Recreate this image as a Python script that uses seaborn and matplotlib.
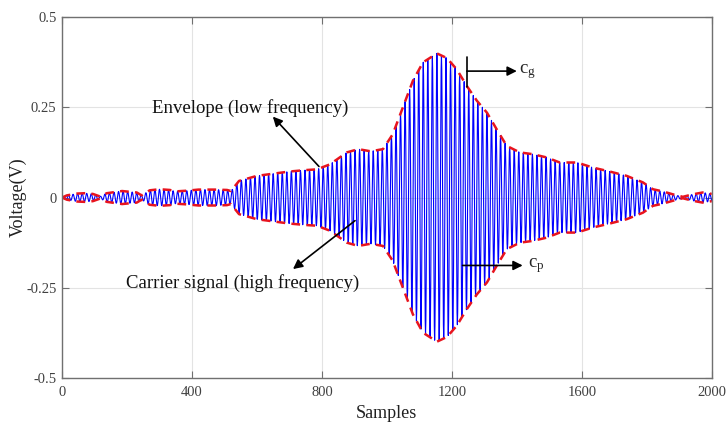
import numpy as np
import pandas as pd
import matplotlib
matplotlib.use("Agg")
import matplotlib.pyplot as plt
import seaborn as sns

# ---- data ----
env_samples = [0, 15, 46, 70, 95, 117, 138, 185, 230, 245, 270, 300, 332, 350, 385,
               420, 470, 508, 520, 545, 600, 650, 700, 750, 785, 825, 877, 912, 950,
               988, 1018, 1049, 1080, 1111, 1154, 1185, 1215, 1246, 1277, 1308, 1338,
               1369, 1409, 1449, 1492, 1532, 1585, 1634, 1686, 1738, 1788, 1819, 1849,
               1880, 1911, 1942, 1972, 2000]
env_values = [0.0, 0.006, 0.011, 0.012, 0.010, 0.003, 0.012, 0.018, 0.014, 0.006, 0.020,
              0.023, 0.021, 0.017, 0.019, 0.022, 0.022, 0.021, 0.018, 0.046, 0.060, 0.066,
              0.072, 0.076, 0.078, 0.092, 0.125, 0.134, 0.128, 0.134, 0.175, 0.249, 0.323,
              0.374, 0.399, 0.386, 0.355, 0.309, 0.268, 0.235, 0.189, 0.143, 0.125, 0.120,
              0.111, 0.097, 0.097, 0.083, 0.072, 0.060, 0.042, 0.023, 0.017, 0.009, 0.002,
              0.009, 0.014, 0.010]
carrier_period = 14.0          # samples per carrier cycle
n_samples = 2000

x_ticks = [0, 400, 800, 1200, 1600, 2000]
y_ticks = [-0.5, -0.25, 0, 0.25, 0.5]
y_tick_labels = ["-0.5", "-0.25", "0", "0.25", "0.5"]

# ---- build signal ----
s = np.arange(n_samples + 1)
env_full = np.interp(s, env_samples, env_values)
carrier = env_full * np.cos(2 * np.pi * (s - 1154) / carrier_period)
df_sig = pd.DataFrame({"Samples": s, "Voltage": carrier})
df_up = pd.DataFrame({"Samples": env_samples, "Voltage": env_values})
df_lo = pd.DataFrame({"Samples": env_samples, "Voltage": [-v for v in env_values]})

sns.set_theme(style="white")
plt.rcParams["font.family"] = ["Liberation Serif", "DejaVu Serif"]
plt.rcParams["mathtext.fontset"] = "custom"
plt.rcParams["mathtext.rm"] = "Liberation Serif"
plt.rcParams["mathtext.it"] = "Liberation Serif:italic"

fig = plt.figure(figsize=(7.27, 4.23), dpi=100)
ax = fig.add_axes([0.0853, 0.106, 0.8937, 0.854])

sns.lineplot(data=df_sig, x="Samples", y="Voltage", ax=ax, color="#0000ff",
             lw=0.8, estimator=None, sort=False)
for d in (df_up, df_lo):
    sns.lineplot(data=d, x="Samples", y="Voltage", ax=ax, color="#e8141e",
                 lw=1.8, estimator=None, sort=False, dashes=False,
                 linestyle=(0, (3.5, 2.5)))

ax.set_xlim(0, 2000)
ax.set_ylim(-0.5, 0.5)
ax.set_xticks(x_ticks)
ax.set_xticklabels([str(t) for t in x_ticks])
ax.set_yticks(y_ticks)
ax.set_yticklabels(y_tick_labels)
ax.grid(True, color="#e3e3e3", lw=0.8)
ax.set_axisbelow(True)
for sp in ax.spines.values():
    sp.set_color("#707070")
    sp.set_linewidth(1.0)
ax.tick_params(direction="in", length=5, width=0.8, color="#707070",
               labelsize=10.5, labelcolor="#404040", top=True, right=True,
               bottom=True, left=True, pad=4)
ax.tick_params(axis="x", pad=6)
ax.set_xlabel("Samples", fontsize=13, color="#202020", labelpad=4)
ax.set_ylabel("Voltage(V)", fontsize=13, color="#202020")
ax.yaxis.set_label_coords(-0.054, 0.5)

arrow = dict(arrowstyle="-|>", color="black", lw=1.2, mutation_scale=14,
             shrinkA=0, shrinkB=0)
ax.annotate("", xy=(649, 0.224), xytext=(791, 0.086), arrowprops=arrow)
ax.text(578, 0.249, "Envelope (low frequency)", fontsize=13.5, ha="center",
        va="center", color="#111111")
ax.annotate("", xy=(711, -0.198), xytext=(902, -0.064), arrowprops=arrow)
ax.text(557, -0.238, "Carrier signal (high frequency)", fontsize=13.5,
        ha="center", va="center", color="#111111")

# c_g marker
ax.plot([1246, 1246], [0.307, 0.39], color="black", lw=1.2)
ax.annotate("", xy=(1400, 0.35), xytext=(1246, 0.35), arrowprops=arrow)
ax.text(1406, 0.35, r"c$_\mathrm{g}$", fontsize=13.5, ha="left", va="center")
# c_p marker
ax.annotate("", xy=(1418, -0.188), xytext=(1233, -0.188), arrowprops=arrow)
ax.text(1434, -0.188, r"c$_\mathrm{p}$", fontsize=13.5, ha="left", va="center")

fig.savefig("out.png", dpi=100)
